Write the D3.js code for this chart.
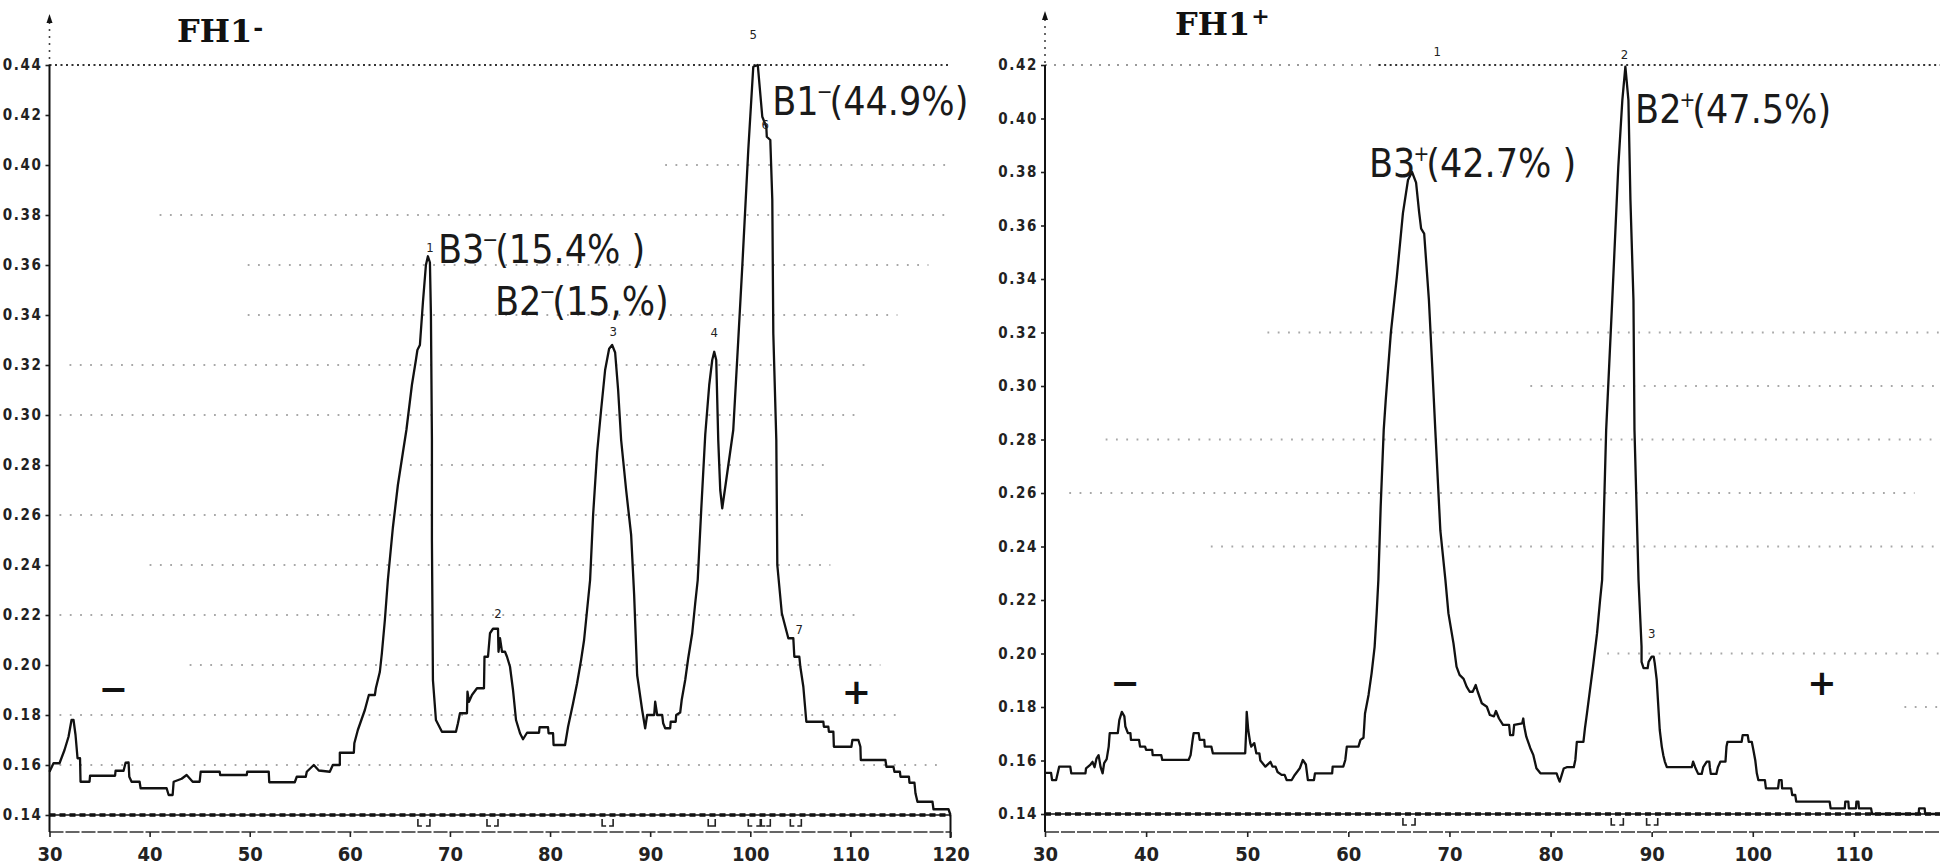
<!DOCTYPE html>
<html><head><meta charset="utf-8">
<script src="https://cdn.jsdelivr.net/npm/d3@7/dist/d3.min.js"></script>
<style>
html,body{margin:0;padding:0;background:#fff;}
svg{display:block;}
</style></head><body>
<svg id="chart" width="1940" height="868"></svg>
<script>
// ---------- DATA ----------
const titles = ["FH1", "FH1"];
const titleSigns = ["-", "+"];
const yTicksLeft = [0.14,0.16,0.18,0.20,0.22,0.24,0.26,0.28,0.30,0.32,0.34,0.36,0.38,0.40,0.42,0.44];
const yTicksRight = [0.14,0.16,0.18,0.20,0.22,0.24,0.26,0.28,0.30,0.32,0.34,0.36,0.38,0.40,0.42];
const xTicksLeft = [30,40,50,60,70,80,90,100,110,120];
const xTicksRight = [30,40,50,60,70,80,90,100,110];

// densitometer trace, FH1- (mobility, absorbance)
const traceLeft = [[30.0,0.1573],[30.4,0.1607],[31.0,0.1607],[31.5,0.166],[31.9,0.1713],[32.2,0.178],[32.4,0.178],[32.6,0.172],[32.8,0.1627],[33.05,0.1627],[33.1,0.1533],[34.0,0.1533],[34.05,0.1557],[36.55,0.1557],[36.6,0.1577],[37.4,0.1577],[37.6,0.1609],[37.9,0.161],[37.97,0.1553],[38.2,0.1533],[39.0,0.1533],[39.1,0.1507],[41.7,0.1507],[41.9,0.148],[42.3,0.148],[42.4,0.1533],[43.2,0.1545],[43.7,0.156],[44.3,0.1533],[45.0,0.1533],[45.1,0.1573],[47.0,0.1573],[47.05,0.156],[49.7,0.156],[49.75,0.1573],[51.9,0.1573],[51.95,0.1531],[54.5,0.1531],[54.7,0.1553],[55.6,0.1553],[55.7,0.1573],[56.4,0.16],[56.9,0.1578],[58.0,0.1573],[58.3,0.160],[59.0,0.160],[59.0,0.1649],[60.4,0.1649],[60.45,0.1687],[60.8,0.174],[61.5,0.182],[61.9,0.188],[62.5,0.188],[62.6,0.1907],[63.0,0.1973],[63.2,0.2047],[63.5,0.218],[63.8,0.234],[64.3,0.255],[64.8,0.272],[65.3,0.285],[65.65,0.294],[66.2,0.312],[66.6,0.322],[66.75,0.326],[67.0,0.328],[67.3,0.345],[67.6,0.36],[67.8,0.3635],[68.0,0.361],[68.1,0.34],[68.2,0.29],[68.2,0.25],[68.3,0.194],[68.6,0.178],[69.2,0.1733],[70.6,0.1733],[70.8,0.1767],[71.0,0.1807],[71.7,0.1807],[71.75,0.1893],[71.9,0.1853],[72.2,0.188],[72.7,0.1907],[73.4,0.1907],[73.45,0.2033],[73.8,0.2033],[74.0,0.2127],[74.3,0.2145],[74.8,0.2145],[74.85,0.2053],[75.0,0.2107],[75.2,0.2053],[75.5,0.2053],[75.7,0.2033],[76.0,0.1993],[76.3,0.19],[76.6,0.178],[77.0,0.1727],[77.3,0.1703],[77.7,0.1729],[78.9,0.1729],[78.95,0.1751],[79.8,0.1751],[79.85,0.1727],[80.3,0.1727],[80.35,0.168],[81.5,0.168],[81.8,0.1753],[82.3,0.1847],[82.7,0.1927],[83.1,0.202],[83.4,0.21],[83.7,0.222],[84.0,0.234],[84.3,0.26],[84.7,0.285],[85.1,0.302],[85.5,0.318],[85.9,0.3265],[86.2,0.328],[86.5,0.325],[86.8,0.31],[87.1,0.29],[87.6,0.27],[88.1,0.252],[88.4,0.228],[88.7,0.196],[89.2,0.182],[89.5,0.1747],[89.7,0.18],[90.4,0.18],[90.5,0.1853],[90.7,0.18],[91.2,0.18],[91.3,0.1767],[91.5,0.1747],[92.0,0.1747],[92.05,0.1773],[92.55,0.1773],[92.6,0.18],[93.0,0.181],[93.15,0.186],[93.5,0.194],[93.8,0.2027],[94.2,0.2127],[94.5,0.2247],[94.75,0.234],[95.1,0.262],[95.5,0.292],[95.9,0.312],[96.2,0.322],[96.4,0.3253],[96.6,0.322],[96.8,0.29],[97.0,0.27],[97.2,0.2627],[97.6,0.274],[98.3,0.294],[98.8,0.33],[99.2,0.3593],[99.8,0.406],[100.3,0.4393],[100.75,0.44],[101.2,0.4193],[101.6,0.4153],[101.65,0.4113],[102.0,0.41],[102.2,0.386],[102.3,0.3327],[102.6,0.29],[102.7,0.24],[103.15,0.2207],[103.5,0.2153],[103.8,0.2107],[104.3,0.2107],[104.4,0.2033],[104.9,0.2033],[105.0,0.1993],[105.3,0.1913],[105.6,0.1773],[107.3,0.1773],[107.35,0.1753],[107.8,0.1753],[107.85,0.1733],[108.3,0.1733],[108.35,0.1673],[110.1,0.1673],[110.2,0.17],[110.8,0.17],[111.0,0.1673],[111.04,0.162],[113.5,0.162],[113.6,0.1593],[114.3,0.1593],[114.4,0.1573],[114.95,0.1573],[115.0,0.1553],[115.85,0.1553],[115.9,0.1529],[116.4,0.1529],[116.5,0.1487],[116.7,0.1453],[118.2,0.1453],[118.3,0.1423],[119.8,0.1423],[120.0,0.14]];

// densitometer trace, FH1+
const traceRight = [[30.0,0.1554],[30.6,0.1554],[30.7,0.1527],[31.1,0.1527],[31.4,0.1577],[32.5,0.1577],[32.6,0.1552],[34.0,0.1552],[34.06,0.1571],[34.5,0.1585],[34.7,0.1595],[34.9,0.1575],[35.1,0.1608],[35.3,0.162],[35.5,0.1575],[35.7,0.1552],[35.85,0.159],[36.1,0.1605],[36.3,0.1652],[36.4,0.1702],[37.2,0.1702],[37.35,0.1751],[37.6,0.1782],[37.85,0.1765],[37.95,0.1727],[38.2,0.1702],[38.45,0.1702],[38.5,0.1677],[39.3,0.1677],[39.4,0.1652],[39.9,0.1652],[40.0,0.164],[40.6,0.164],[40.65,0.162],[41.5,0.162],[41.6,0.1602],[44.2,0.1602],[44.4,0.162],[44.6,0.1677],[44.7,0.1702],[45.2,0.1702],[45.3,0.1677],[45.75,0.1677],[45.8,0.1652],[46.45,0.1652],[46.6,0.1627],[49.8,0.1627],[49.9,0.1714],[49.95,0.1782],[50.1,0.1714],[50.3,0.1665],[50.4,0.1652],[50.7,0.1665],[50.9,0.1627],[51.2,0.1627],[51.3,0.16],[51.8,0.1577],[52.3,0.1595],[52.5,0.1577],[52.8,0.1577],[53.0,0.1557],[53.4,0.1546],[53.7,0.1546],[53.9,0.1527],[54.4,0.1527],[54.7,0.1546],[55.2,0.1571],[55.5,0.1602],[55.8,0.1585],[56.0,0.1527],[56.6,0.1527],[56.7,0.1552],[58.4,0.1552],[58.45,0.1577],[59.5,0.1577],[59.7,0.1602],[59.85,0.1652],[61.0,0.1652],[61.2,0.1677],[61.5,0.1685],[61.65,0.1776],[62.0,0.1845],[62.3,0.1926],[62.6,0.2025],[62.8,0.215],[62.97,0.2275],[63.2,0.255],[63.5,0.2836],[63.7,0.2948],[64.2,0.3197],[64.8,0.3409],[65.4,0.3646],[65.9,0.377],[66.3,0.380],[66.7,0.376],[67.0,0.365],[67.2,0.3588],[67.5,0.357],[67.97,0.3321],[68.3,0.3072],[68.6,0.2836],[69.1,0.246],[69.6,0.2275],[69.9,0.215],[70.4,0.2038],[70.7,0.1951],[71.0,0.192],[71.4,0.1905],[71.7,0.1876],[72.0,0.1857],[72.3,0.1857],[72.6,0.1882],[72.8,0.1857],[73.2,0.1814],[73.7,0.1801],[74.0,0.177],[74.4,0.1765],[74.6,0.1785],[74.9,0.1757],[75.3,0.1733],[75.9,0.1733],[76.0,0.1695],[76.3,0.1695],[76.4,0.1733],[77.2,0.1739],[77.3,0.1757],[77.4,0.1727],[77.6,0.1689],[78.0,0.1646],[78.3,0.162],[78.6,0.1571],[79.0,0.1552],[80.6,0.1552],[80.75,0.1535],[80.9,0.1521],[81.1,0.1545],[81.3,0.157],[81.6,0.1575],[82.3,0.1575],[82.45,0.1602],[82.6,0.167],[83.25,0.167],[83.4,0.172],[83.6,0.1776],[83.9,0.1864],[84.2,0.1951],[84.6,0.2076],[84.9,0.22],[85.1,0.2275],[85.5,0.2836],[86.1,0.332],[86.7,0.382],[87.1,0.4069],[87.4,0.4194],[87.7,0.4069],[87.9,0.3695],[88.2,0.332],[88.3,0.2836],[88.7,0.2275],[89.0,0.2025],[89.0,0.1969],[89.2,0.1945],[89.6,0.1945],[89.7,0.1969],[90.0,0.1988],[90.2,0.1988],[90.3,0.1965],[90.5,0.1901],[90.7,0.1776],[90.8,0.1714],[91.0,0.1652],[91.15,0.162],[91.3,0.1596],[91.5,0.1575],[93.96,0.1575],[94.1,0.1596],[94.3,0.1575],[94.6,0.155],[94.95,0.155],[95.1,0.1575],[95.45,0.1596],[95.7,0.1596],[95.75,0.1575],[95.85,0.155],[96.4,0.155],[96.55,0.1575],[96.8,0.1596],[97.3,0.1596],[97.4,0.1652],[97.5,0.167],[98.9,0.167],[99.0,0.1695],[99.5,0.1695],[99.6,0.167],[99.9,0.167],[100.06,0.1639],[100.25,0.16],[100.4,0.1552],[100.55,0.1527],[101.2,0.1527],[101.3,0.1496],[102.5,0.1496],[102.6,0.1527],[102.85,0.1527],[102.9,0.1496],[103.8,0.1496],[103.9,0.1471],[104.2,0.1471],[104.3,0.1446],[107.6,0.1446],[107.7,0.1421],[109.1,0.1421],[109.15,0.1446],[109.45,0.1446],[109.5,0.1421],[110.2,0.1421],[110.25,0.1446],[110.45,0.1446],[110.5,0.1421],[111.7,0.1421],[111.8,0.14],[116.4,0.14],[116.45,0.1421],[117.0,0.1421],[117.05,0.14],[119.5,0.14]];

// band labels: [text before sign, sign, text after, x, y]
const bandsLeft = [["B3","−","(15.4% )",68.8,0.3608],["B2","−","(15,%)",74.5,0.34],["B1","−","(44.9%)",102.2,0.42]];
const bandsRight = [["B3","+","(42.7% )",62.05,0.3781],["B2","+","(47.5%)",88.36,0.3983]];
// peak numbers printed by the densitometer: [label, x, y]
const peaksLeft = [["1",68.0,0.3652],["2",74.8,0.2188],["3",86.3,0.3315],["4",96.4,0.3312],["5",100.3,0.4504],["6",101.5,0.4144],["7",104.9,0.2124]];
const peaksRight = [["1",68.8,0.4234],["2",87.3,0.4222],["3",90.0,0.2058]];
// integration brackets under the baseline: [start, end]
const bracketsLeft = [[66.8,68.0],[73.7,74.8],[85.2,86.3],[95.8,96.5],[99.8,101.0],[101.1,102.0],[104.0,105.1]];
const bracketsRight = [[65.4,66.6],[86.0,87.2],[89.5,90.6]];
// faint dotted grid rows: [level, from, to]
const gridLeft = [[0.40,91.5,120],[0.38,41,120],[0.36,49.8,117.8],[0.34,49.8,114.7],[0.32,32,111.6],[0.30,31,110.6],[0.28,66,108],[0.26,31,106],[0.24,40,108],[0.22,31,111],[0.20,44,113],[0.18,31,114.7],[0.16,31,119]];
const gridRight = [[0.38,74,76],[0.32,52,119],[0.30,78,119],[0.28,36,119],[0.26,32.4,116],[0.24,46.4,119],[0.20,85.6,119],[0.18,115,119]];
// top reference line pieces: [from, to] (faint part, dark part)
const topLineLeft = [[30,30],[30,120]];
const topLineRight = [[30,63],[63,119]];
// electrode signs: [symbol, x, y]
const polesLeft = [["−",36.35,0.1856],["+",110.6,0.1844]];
const polesRight = [["−",37.9,0.1845],["+",106.85,0.1845]];

// ---------- DRAW ----------
const svg = d3.select("#chart");
const NARROW = "'Liberation Sans Narrow','DejaVu Sans Condensed',sans-serif";
const COND = "'DejaVu Sans Condensed','DejaVu Sans',sans-serif";

const panels = [
  {x: d3.scaleLinear().domain([30,120]).range([49.5,950.5]),
   y: d3.scaleLinear().domain([0.14,0.44]).range([815,65]),
   yTicks: yTicksLeft, xTicks: xTicksLeft, yTop: 0.44, xEnd: 120, endTick: true,
   trace: traceLeft, bands: bandsLeft, peaks: peaksLeft, brackets: bracketsLeft,
   grid: gridLeft, top: topLineLeft, poles: polesLeft, title: titles[0], sign: titleSigns[0],
   titleX: 177, titleY: 42, arrowTop: 14, axisBottom: 832},
  {x: d3.scaleLinear().domain([30,120]).range([1045,1955]),
   y: d3.scaleLinear().domain([0.14,0.42]).range([814,65]),
   yTicks: yTicksRight, xTicks: xTicksRight, yTop: 0.42, xEnd: 119, endTick: false,
   trace: traceRight, bands: bandsRight, peaks: peaksRight, brackets: bracketsRight,
   grid: gridRight, top: topLineRight, poles: polesRight, title: titles[1], sign: titleSigns[1],
   titleX: 1175, titleY: 35, arrowTop: 11, axisBottom: 832}
];

panels.forEach(p => {
  const g = svg.append("g");
  const x0 = p.x(30);

  // faint dotted grid rows
  g.selectAll("line.grid").data(p.grid).join("line")
    .attr("class","grid")
    .attr("x1", d => p.x(d[1])).attr("x2", d => p.x(d[2]))
    .attr("y1", d => p.y(d[0])).attr("y2", d => p.y(d[0]))
    .attr("stroke", "#a8a8a8").attr("stroke-width", 1.8)
    .attr("stroke-dasharray", "1.8,8.5");

  // top dotted reference line (faint piece, dark piece)
  g.selectAll("line.top").data(p.top).join("line")
    .attr("class","top")
    .attr("x1", d => p.x(d[0])).attr("x2", d => p.x(d[1]))
    .attr("y1", p.y(p.yTop)).attr("y2", p.y(p.yTop))
    .attr("stroke", (d,i) => i === 0 ? "#9a9a9a" : "#333").attr("stroke-width", 1.8)
    .attr("stroke-dasharray", (d,i) => i === 0 ? "2,7" : "2,3.5");

  // baseline at 0.14
  const yb = p.y(0.14);
  g.append("line").attr("x1", x0).attr("x2", p.x(p.xEnd)).attr("y1", yb).attr("y2", yb)
    .attr("stroke", "#111").attr("stroke-width", 1.6);
  g.append("line").attr("x1", x0).attr("x2", p.x(p.xEnd)).attr("y1", yb).attr("y2", yb)
    .attr("stroke", "#111").attr("stroke-width", 3.6).attr("stroke-dasharray", "6,4");

  // lower axis line
  g.append("line").attr("x1", x0).attr("x2", p.x(p.xEnd))
    .attr("y1", p.axisBottom).attr("y2", p.axisBottom)
    .attr("stroke", "#333").attr("stroke-width", 1.6).attr("stroke-dasharray", "14,2");
  if (p.endTick) {
    g.append("line").attr("x1", p.x(p.xEnd)).attr("x2", p.x(p.xEnd))
      .attr("y1", yb).attr("y2", p.axisBottom + 6)
      .attr("stroke", "#111").attr("stroke-width", 2);
  }

  // x axis ticks + labels
  const xa = d3.axisBottom(p.x).tickValues(p.xTicks).tickFormat(d3.format("d"))
    .tickSize(5).tickPadding(10);
  const gx = g.append("g").attr("transform", `translate(0,${p.axisBottom})`).call(xa);
  gx.select(".domain").remove();
  gx.selectAll(".tick line").attr("stroke", "#222").attr("stroke-width", 1.6);
  gx.selectAll(".tick text").attr("font-family", NARROW).attr("font-weight", "bold")
    .attr("font-size", 20).attr("fill", "#222");

  // y axis
  const ya = d3.axisLeft(p.y).tickValues(p.yTicks).tickFormat(d3.format(".2f"))
    .tickSize(4).tickPadding(3);
  const gy = g.append("g").attr("transform", `translate(${x0},0)`).call(ya);
  gy.select(".domain").remove();
  gy.selectAll(".tick line").attr("stroke", "#222").attr("stroke-width", 1.6);
  gy.selectAll(".tick text").attr("font-family", NARROW).attr("font-weight", "bold")
    .attr("font-size", 15).attr("letter-spacing", "1.6px").attr("fill", "#222");

  // vertical axis line with dotted top and arrow
  g.append("line").attr("x1", x0).attr("x2", x0)
    .attr("y1", p.y(p.yTop)).attr("y2", p.axisBottom)
    .attr("stroke", "#111").attr("stroke-width", 2);
  g.append("line").attr("x1", x0).attr("x2", x0)
    .attr("y1", p.arrowTop + 8).attr("y2", p.y(p.yTop))
    .attr("stroke", "#444").attr("stroke-width", 1.6).attr("stroke-dasharray", "2,5");
  g.append("path")
    .attr("d", `M${x0},${p.arrowTop} L${x0-3},${p.arrowTop+9} L${x0+3},${p.arrowTop+9} Z`)
    .attr("fill", "#111");

  // trace
  const line = d3.line().x(d => p.x(d[0])).y(d => p.y(d[1]));
  g.append("path").datum(p.trace).attr("d", line)
    .attr("fill", "none").attr("stroke", "#111").attr("stroke-width", 2.3)
    .attr("stroke-linejoin", "round");

  // integration brackets
  g.selectAll("path.br").data(p.brackets).join("path")
    .attr("class", "br")
    .attr("d", d => {
      const a = p.x(d[0]), b = p.x(d[1]), t = yb + 4, u = yb + 11;
      return `M${a},${t} L${a},${u} L${a+4},${u} M${b-4},${u} L${b},${u} L${b},${t}`;
    })
    .attr("fill", "none").attr("stroke", "#222").attr("stroke-width", 1.6);

  // peak numbers
  g.selectAll("text.pk").data(p.peaks).join("text")
    .attr("class", "pk")
    .attr("x", d => p.x(d[1])).attr("y", d => p.y(d[2]))
    .attr("text-anchor", "middle")
    .attr("font-family", NARROW).attr("font-size", 13).attr("fill", "#222")
    .text(d => d[0]);

  // band labels
  p.bands.forEach(b => {
    const t = g.append("text")
      .attr("x", p.x(b[3])).attr("y", p.y(b[4]))
      .attr("font-family", COND).attr("font-size", 39).attr("fill", "#1a1a1a");
    t.append("tspan").text(b[0]);
    t.append("tspan").attr("font-size", 21).attr("dy", -16).attr("dx", -2).text(b[1]);
    t.append("tspan").attr("dy", 16).attr("dx", -3).text(b[2]);
  });

  // electrode signs
  g.selectAll("text.pole").data(p.poles).join("text")
    .attr("class", "pole")
    .attr("x", d => p.x(d[1])).attr("y", d => p.y(d[2]))
    .attr("text-anchor", "middle")
    .attr("font-family", "'DejaVu Sans',sans-serif").attr("font-weight", "bold")
    .attr("font-size", 35).attr("fill", "#111")
    .text(d => d[0]);

  // title
  const tt = g.append("text").attr("x", p.titleX).attr("y", p.titleY)
    .attr("font-family", "'DejaVu Serif',serif").attr("font-weight", "bold")
    .attr("font-size", 32).attr("fill", "#111");
  tt.append("tspan").text(p.title);
  tt.append("tspan").attr("font-size", p.sign === "+" ? 22 : 24)
    .attr("dy", p.sign === "+" ? -11 : -6).attr("dx", 1).text(p.sign);
});
</script></body></html>
